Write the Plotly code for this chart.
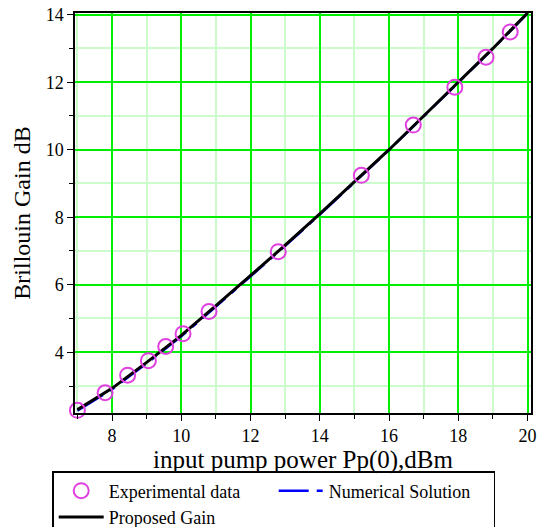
import plotly.graph_objects as go

exp_x = [7.0, 7.8, 8.45, 9.05, 9.55, 10.05, 10.8, 12.8, 15.2, 16.7, 17.9, 18.8, 19.5]
exp_y = [2.28, 2.8, 3.32, 3.75, 4.17, 4.55, 5.21, 6.98, 9.24, 10.73, 11.85, 12.74, 13.49]

# Curves
curve_x = [7, 8, 9, 10, 11, 12, 13, 14, 15, 16, 17, 18, 19, 20]
proposed_y = [2.30, 2.93, 3.70, 4.50, 5.38, 6.27, 7.17, 8.10, 9.04, 10.0, 11.0, 12.0, 13.0, 14.05]
numerical_y = [2.27, 2.90, 3.67, 4.47, 5.35, 6.25, 7.15, 8.08, 9.03, 9.99, 10.99, 11.99, 12.99, 14.04]

x_ticks = [8, 10, 12, 14, 16, 18, 20]
y_ticks = [4, 6, 8, 10, 12, 14]

FONT = "Liberation Serif"

fig = go.Figure()
fig.add_trace(go.Scatter(
    x=curve_x, y=numerical_y, mode="lines", name="Numerical Solution",
    line=dict(color="#0000ff", width=2.5, dash="30px,8px,6px,8px"),
    legendrank=2,
))
fig.add_trace(go.Scatter(
    x=curve_x, y=proposed_y, mode="lines", name="Proposed Gain",
    line=dict(color="black", width=3),
    legendrank=3,
))
fig.add_trace(go.Scatter(
    x=exp_x, y=exp_y, mode="markers", name="Experimental data",
    marker=dict(symbol="circle-open", size=15, color="#e040e0", line=dict(width=2, color="#e040e0")),
    cliponaxis=False, legendrank=1,
))

fig.update_layout(
    width=543, height=527,
    margin=dict(l=75, r=12, t=13, b=114, autoexpand=False),
    plot_bgcolor="white", paper_bgcolor="white",
    font=dict(family=FONT, color="black", size=18),
    showlegend=True,
    legend=dict(
        orientation="h", x=-0.05, xanchor="left", y=-0.145, yanchor="top",
        bordercolor="black", borderwidth=1.5, font=dict(family=FONT, size=18, color="black"),
        entrywidth=160, traceorder="normal", itemwidth=45,
    ),
    xaxis=dict(
        range=[6.93, 20.1], tickvals=x_ticks, showline=True, linecolor="black", linewidth=1.5,
        mirror=True, ticks="outside", ticklen=6, tickcolor="black",
        showgrid=True, gridcolor="#00ee00", gridwidth=1.5, zeroline=False,
        minor=dict(dtick=1, tick0=7, ticks="outside", ticklen=4, tickcolor="black",
                   showgrid=True, gridcolor="#ccfccc", gridwidth=1.5),
        tickfont=dict(family=FONT, size=18, color="black"),
        title=dict(text="input pump power Pp(0),dBm", font=dict(family=FONT, size=25, color="black"), standoff=2),
    ),
    yaxis=dict(
        range=[2.2, 14.05], tickvals=y_ticks, showline=True, linecolor="black", linewidth=1.5,
        mirror=True, ticks="outside", ticklen=6, tickcolor="black",
        showgrid=True, gridcolor="#00ee00", gridwidth=1.5, zeroline=False,
        minor=dict(dtick=1, tick0=3, ticks="outside", ticklen=4, tickcolor="black",
                   showgrid=True, gridcolor="#ccfccc", gridwidth=1.5),
        tickfont=dict(family=FONT, size=18, color="black"),
        title=dict(text="Brillouin Gain dB", font=dict(family=FONT, size=24, color="black"), standoff=8),
    ),
)

fig.write_html("out.html")
